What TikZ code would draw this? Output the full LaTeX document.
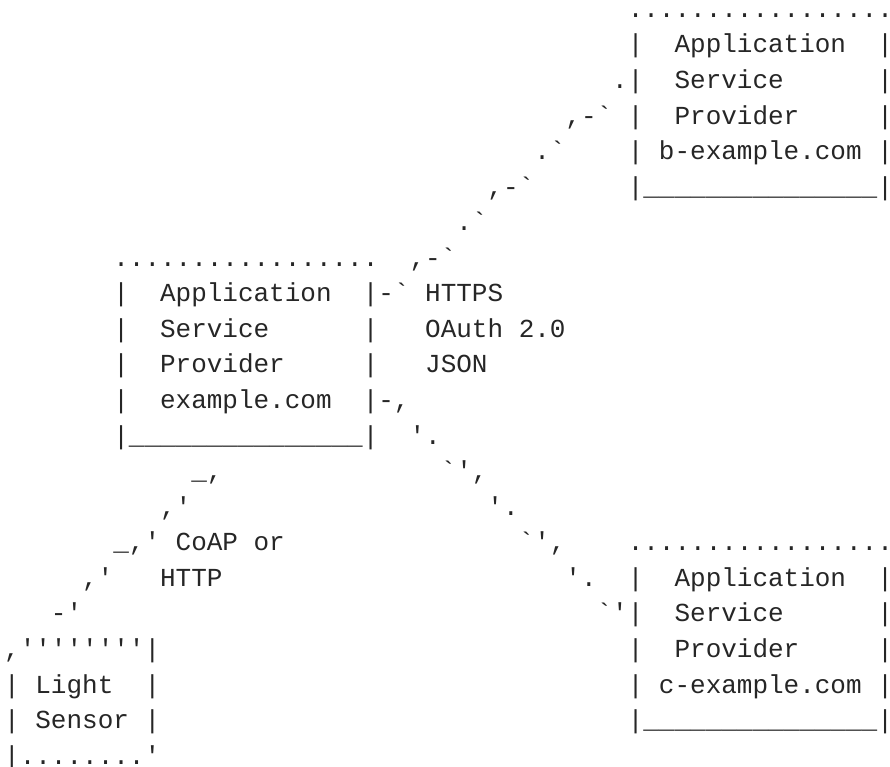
\documentclass[tikz,border=0pt]{standalone}
\usepackage{fontspec}
\setmonofont{Liberation Mono}
\definecolor{ink}{RGB}{38,38,38}
\tikzset{
  ascii/.style={anchor=base west, inner sep=0pt, outer sep=0pt, text=ink,
    font=\ttfamily\fontsize{19.49pt}{26.67pt}\selectfont}
}
\newcommand{\us}{\_\_\_\_\_\_\_\_\_\_\_\_\_\_\_}
\begin{document}
\begin{tikzpicture}[x=11.6925pt, y=-26.67pt]
\useasboundingbox (-0.2694,0.5107) rectangle (56.819,22.08);
% right upper box
\node[ascii] (b1) at (40,1) {.................};
\node[ascii] (b2) at (40,2) {|~~Application~~|};
\node[ascii] (b3) at (39,3) {.|~~Service~~~~~~|};
\node[ascii] (b4) at (36,4) {,-`~|~~Provider~~~~~|};
\node[ascii] (c5) at (34,5) {.`};
\node[ascii] (b5) at (40,5) {|~b-example.com~|};
\node[ascii] (c6) at (31,6) {,-`};
\node[ascii] (b6) at (40,6) {|\us|};
\node[ascii] (c7) at (29,7) {.`};
% middle box
\node[ascii] (a8) at (7,8) {.................};
\node[ascii] (c8) at (26,8) {,-`};
\node[ascii] (a9) at (7,9) {|~~Application~~|-`~HTTPS};
\node[ascii] (a10) at (7,10) {|~~Service~~~~~~|~~~OAuth~2.0};
\node[ascii] (a11) at (7,11) {|~~Provider~~~~~|~~~JSON};
\node[ascii] (a12) at (7,12) {|~~example.com~~|-,};
\node[ascii] (a13) at (7,13) {|\us|};
\node[ascii] (d13) at (26,13) {'.};
% lower links
\node[ascii] (e14) at (12,14) {\_,};
\node[ascii] (d14) at (28,14) {`',};
\node[ascii] (e15) at (10,15) {,'};
\node[ascii] (d15) at (31,15) {'.};
\node[ascii] (e16) at (7,16) {\_,'~CoAP~or};
\node[ascii] (d16) at (33,16) {`',};
\node[ascii] (g16) at (40,16) {.................};
\node[ascii] (e17) at (5,17) {,'~~~HTTP};
\node[ascii] (d17) at (36,17) {'.};
\node[ascii] (g17) at (40,17) {|~~Application~~|};
\node[ascii] (e18) at (3,18) {-'};
\node[ascii] (g18) at (38,18) {`'|~~Service~~~~~~|};
% sensor box and lower right box
\node[ascii] (s19) at (0,19) {,''''''''|};
\node[ascii] (g19) at (40,19) {|~~Provider~~~~~|};
\node[ascii] (s20) at (0,20) {|~Light~~|};
\node[ascii] (g20) at (40,20) {|~c-example.com~|};
\node[ascii] (s21) at (0,21) {|~Sensor~|};
\node[ascii] (g21) at (40,21) {|\us|};
\node[ascii] (s22) at (0,22) {|........'};
\end{tikzpicture}
\end{document}
